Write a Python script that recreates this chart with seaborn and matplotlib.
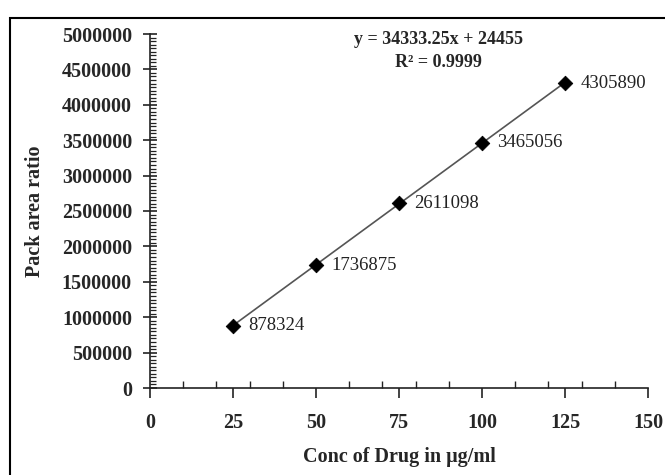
import numpy as np
import pandas as pd
import matplotlib
matplotlib.use("Agg")
import matplotlib.pyplot as plt
from matplotlib.ticker import MultipleLocator
from matplotlib.patches import Rectangle
import seaborn as sns

conc = [25, 50, 75, 100, 125]
area = [878324, 1736875, 2611098, 3465056, 4305890]
point_labels = ["878324", "1736875", "2611098", "3465056", "4305890"]
equation_text = "y = 34333.25x + 24455"
r2_text = "R² = 0.9999"

sns.set_theme(style="white")
plt.rcParams["font.family"] = ["Liberation Serif", "DejaVu Serif"]

df = pd.DataFrame({"conc": conc, "area": area})
slope, intercept = np.polyfit(df["conc"], df["area"], 1)
df["fit"] = slope * df["conc"] + intercept

fig = plt.figure(figsize=(6.65, 4.75), dpi=100)
ax = fig.add_axes([150/665, 1-388/475, (648-150)/665, (388-34)/475])

sns.lineplot(data=df, x="conc", y="fit", ax=ax, color="#555555", linewidth=1.2)
sns.scatterplot(data=df, x="conc", y="area", ax=ax, marker="D", s=55,
                color="black", edgecolor="black", zorder=5)

for x, y, lab in zip(conc, area, point_labels):
    ax.annotate(lab, (x, y), xytext=(11, 0), textcoords="offset points",
                ha="left", va="center", fontsize=13.5, color="#222222")

ax.text(0.58, 0.985, equation_text, transform=ax.transAxes, ha="center", va="center",
        fontsize=13, fontweight="bold")
ax.text(0.58, 0.92, r2_text, transform=ax.transAxes, ha="center", va="center",
        fontsize=13, fontweight="bold")

ax.set_xlim(0, 150)
ax.set_ylim(0, 5000000)
ax.xaxis.set_major_locator(MultipleLocator(25))
ax.xaxis.set_minor_locator(MultipleLocator(10))
ax.yaxis.set_major_locator(MultipleLocator(500000))
ax.yaxis.set_minor_locator(MultipleLocator(50000))
ax.ticklabel_format(style="plain", axis="y", useOffset=False)

for s in ["top", "right"]:
    ax.spines[s].set_visible(False)
for s in ["left", "bottom"]:
    ax.spines[s].set_color("#222222")
    ax.spines[s].set_linewidth(1.2)

ax.tick_params(axis="y", which="major", direction="inout", length=10, width=1.2,
               color="#222222", labelsize=14.5, pad=8, left=True)
ax.tick_params(axis="y", which="minor", direction="in", length=4, width=0.9,
               color="#222222", left=True)
ax.tick_params(axis="x", which="major", direction="out", length=7, width=1.2,
               color="#222222", labelsize=14.5, pad=11, bottom=True)
ax.tick_params(axis="x", which="minor", direction="in", length=5, width=1.0,
               color="#222222", bottom=True)
for lab in ax.get_xticklabels() + ax.get_yticklabels():
    lab.set_fontweight("bold")

ax.set_xlabel("Conc of Drug in μg/ml", fontsize=14.5, fontweight="bold", labelpad=10)
ax.set_ylabel("Pack area ratio", fontsize=14.5, fontweight="bold", labelpad=12)

fig.patches.append(Rectangle((10/665, -0.1), 1.2, 1 - 18/475 + 0.1,
                             transform=fig.transFigure, fill=False,
                             edgecolor="black", linewidth=1.5))

fig.savefig("out.png", dpi=100)
